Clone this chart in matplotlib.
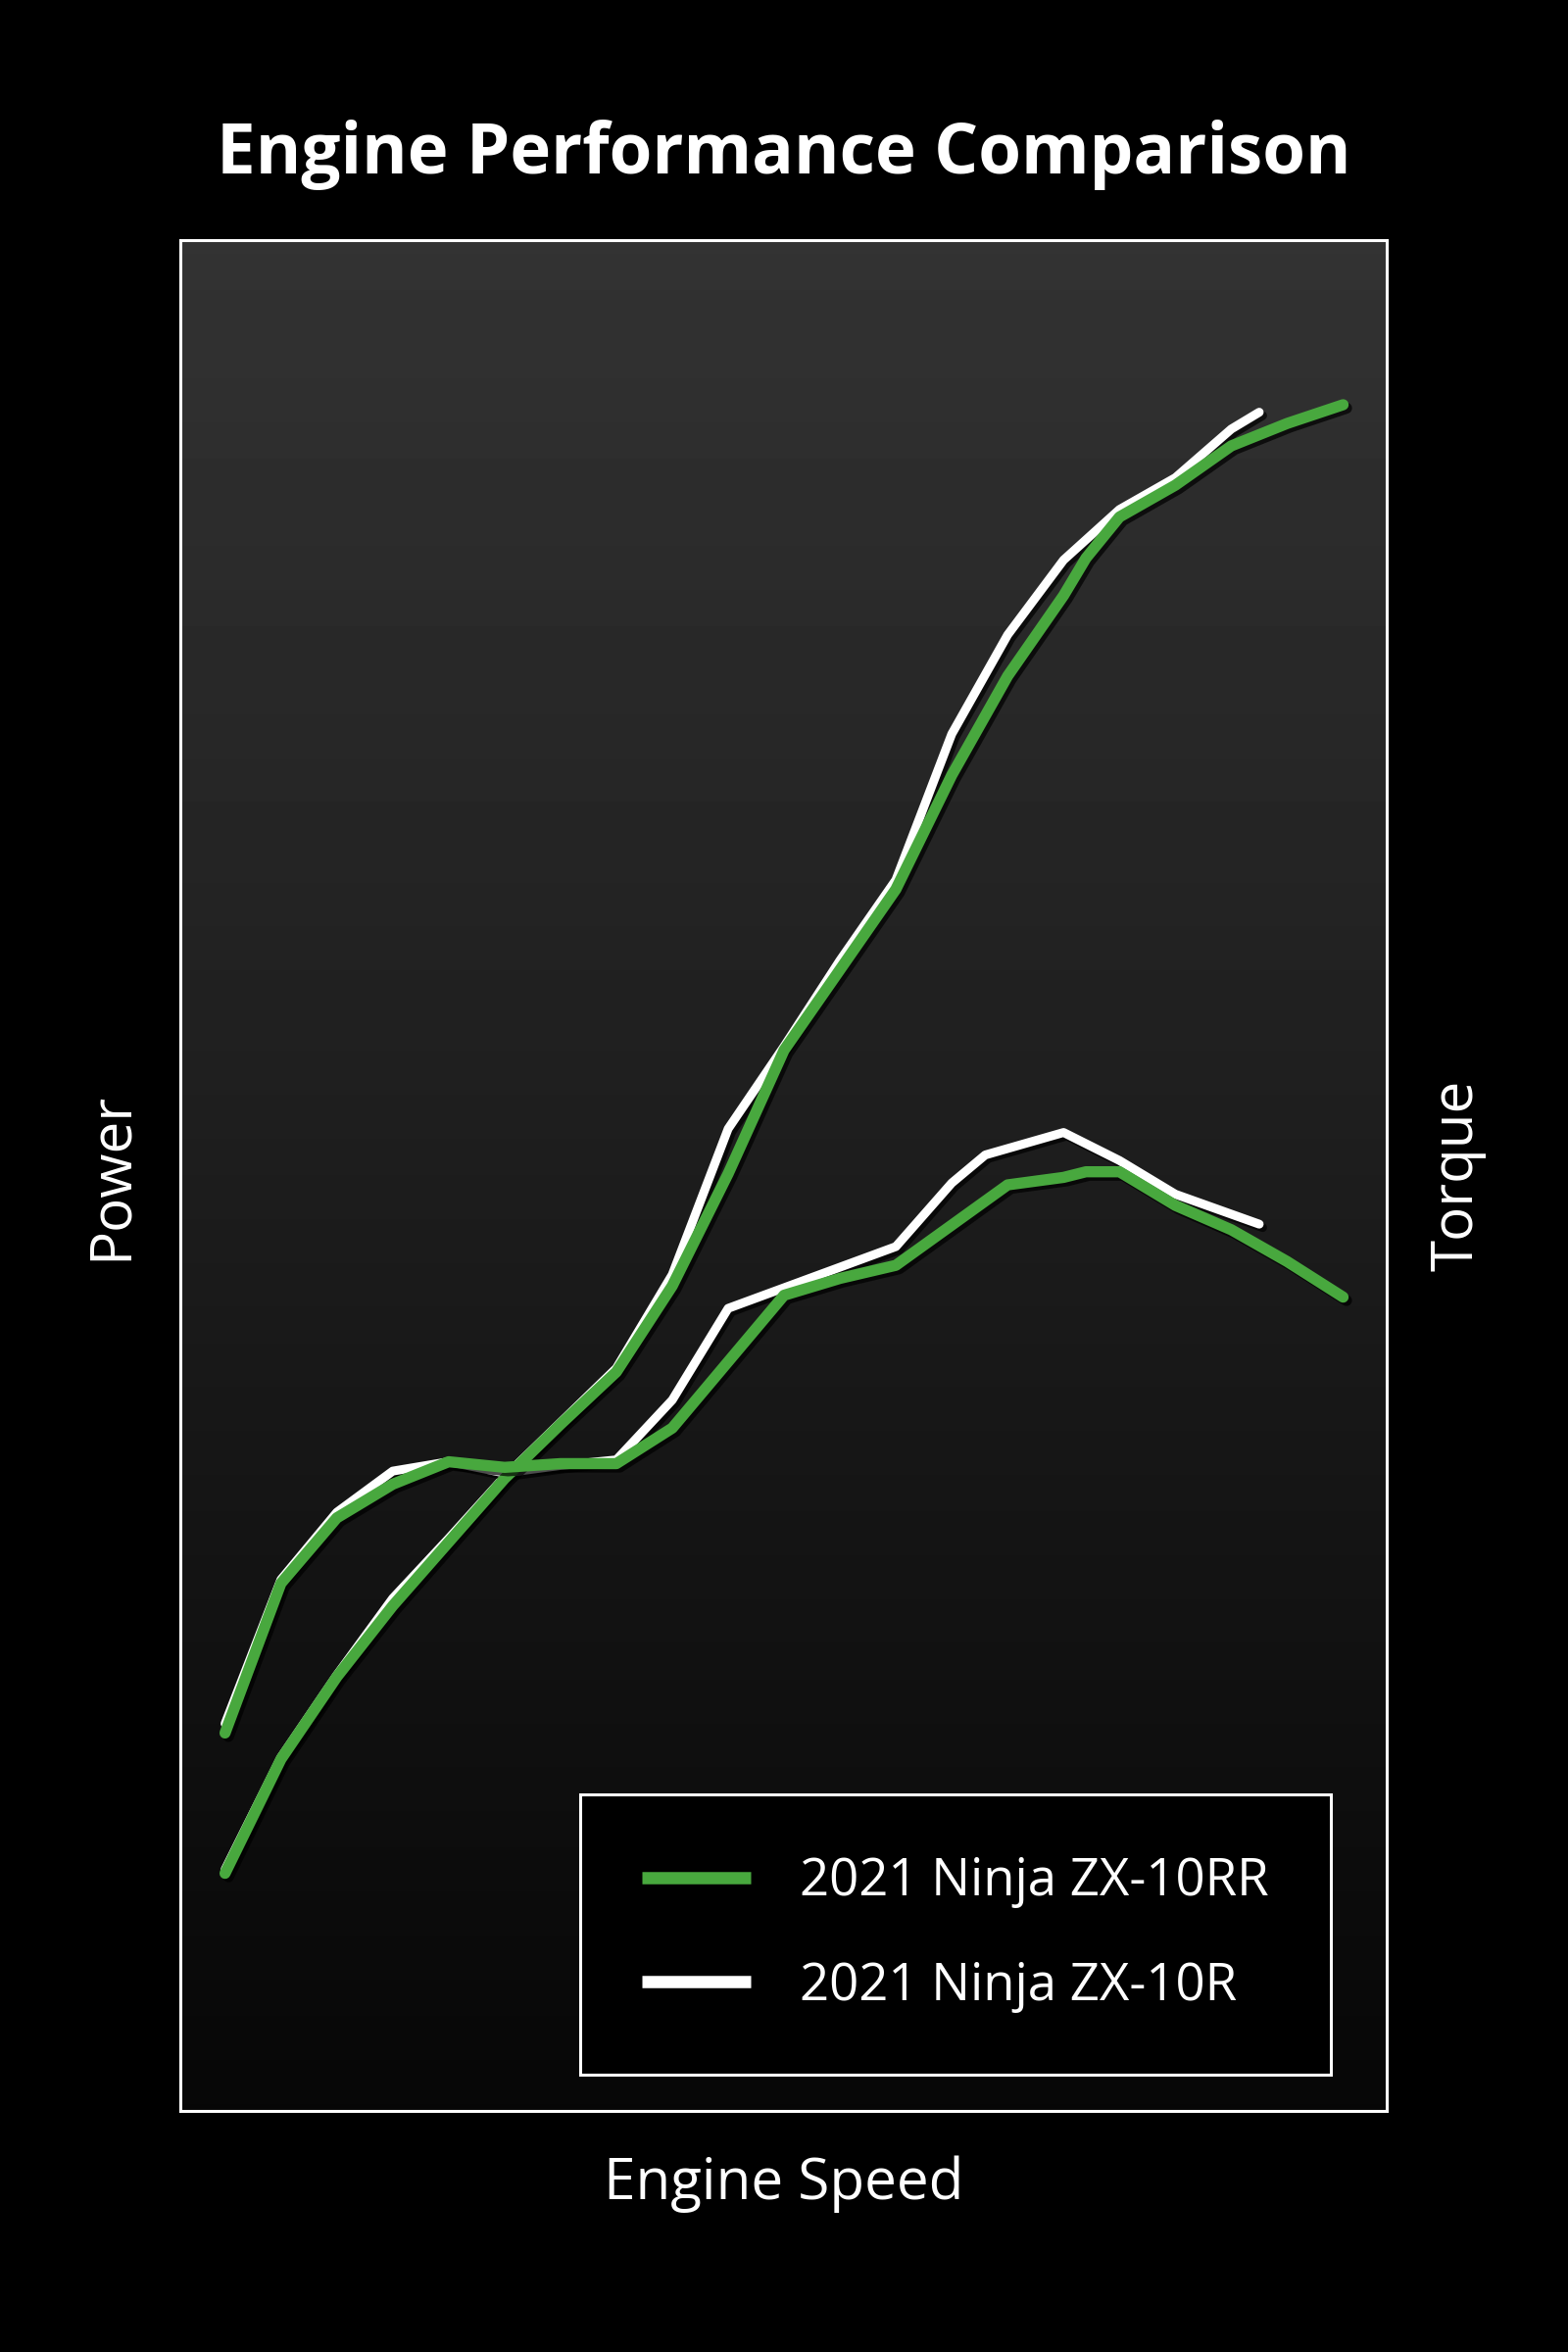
import numpy as np
import matplotlib
matplotlib.use("Agg")
import matplotlib.pyplot as plt
import matplotlib.patheffects as pe


    # engine speed (rpm) and relative output (0-100 = bottom/top of the box)
    # no scale is printed on the original, so values are read as % of plot height

###Power curves###
rpmPowerRR = [4000, 4500, 5000, 5500, 6000, 6500, 7000, 7500, 8000, 8500, 9000,
              9500, 10000, 10500, 11000, 11500, 11700, 12000, 12500, 13000, 13500, 14000]
powerRR = [12.7, 18.8, 23.2, 27.0, 30.4, 33.8, 36.7, 39.5, 44.1, 50.1, 56.7,
           61.0, 65.3, 71.4, 76.7, 81.0, 83.0, 85.2, 86.9, 89.0, 90.2, 91.2]

rpmPowerR = [4000, 4500, 5000, 5500, 6000, 6500, 7000, 7500, 8000, 8500, 9000,
             9500, 10000, 10500, 11000, 11500, 12000, 12500, 13000, 13250]
powerR = [12.9, 18.9, 23.3, 27.4, 30.6, 33.9, 36.8, 39.7, 44.7, 52.5, 56.9,
          61.5, 65.8, 73.6, 78.9, 82.9, 85.6, 87.3, 89.9, 90.8]

###Torque curves###
rpmTorqueRR = [4000, 4500, 5000, 5500, 6000, 6500, 7000, 7500, 8000, 9000, 9500,
               10000, 11000, 11500, 11700, 12000, 12500, 13000, 13500, 14000]
torqueRR = [20.2, 28.2, 31.7, 33.5, 34.7, 34.4, 34.6, 34.6, 36.5, 43.6, 44.5,
            45.2, 49.5, 49.9, 50.2, 50.2, 48.4, 47.1, 45.4, 43.5]

rpmTorqueR = [4000, 4500, 5000, 5500, 6000, 6500, 7000, 7500, 8000, 8500, 9000,
              10000, 10500, 10800, 11500, 12000, 12500, 13250]
torqueR = [20.7, 28.4, 32.0, 34.2, 34.7, 34.1, 34.5, 34.8, 38.0, 42.9, 44.0,
           46.2, 49.6, 51.1, 52.3, 50.8, 49.0, 47.4]

labelRR = "2021 Ninja ZX-10RR"
labelR = "2021 Ninja ZX-10R"

GREEN = "#48a83e"
WHITE = "#ffffff"
FONT = "Open Sans"


    #drop shadow used under every curve
shadow = [pe.SimpleLineShadow(offset=(2.5, -2.5), shadow_color="black", alpha=0.7),
          pe.Normal()]


fig = plt.figure(figsize=(16, 24), dpi=100)
fig.patch.set_facecolor("black")

ax = fig.add_axes([0.115, 0.1025, 0.769375, 0.795417])
ax.set_xlim(3600, 14390)
ax.set_ylim(0, 100)

    #vertical gradient for the plot background
grad = np.linspace(0.2, 0.027, 256).reshape(-1, 1)
ax.imshow(grad, cmap="gray", vmin=0, vmax=1, aspect="auto",
          extent=[3600, 14390, 0, 100], origin="upper", zorder=0)

    #white (ZX-10R) first so the green sits on top
ax.plot(rpmPowerR, powerR, color=WHITE, lw=6.5, solid_capstyle="round",
        solid_joinstyle="round", path_effects=shadow, zorder=2, label=labelR)
ax.plot(rpmTorqueR, torqueR, color=WHITE, lw=6.5, solid_capstyle="round",
        solid_joinstyle="round", path_effects=shadow, zorder=2)

ax.plot(rpmPowerRR, powerRR, color=GREEN, lw=8.2, solid_capstyle="round",
        solid_joinstyle="round", path_effects=shadow, zorder=3, label=labelRR)
ax.plot(rpmTorqueRR, torqueRR, color=GREEN, lw=8.2, solid_capstyle="round",
        solid_joinstyle="round", path_effects=shadow, zorder=3)

for s in ax.spines.values():
    s.set_color("white")
    s.set_linewidth(2.2)
ax.set_xticks([])
ax.set_yticks([])

ax.set_xlabel("Engine Speed", color="white", fontsize=42, family=FONT, labelpad=33)
ax.set_ylabel("Power", color="white", fontsize=42, family=FONT, labelpad=30)

    #torque label on the right hand side
ax2 = ax.twinx()
ax2.set_ylim(0, 100)
ax2.set_yticks([])
ax2.spines[:].set_visible(False)
ax2.set_ylabel("Torque", color="white", fontsize=42, family=FONT, labelpad=31)

fig.text(0.5, 0.934, "Engine Performance Comparison", color="white", fontsize=51,
         fontweight="bold", family=FONT, ha="center", va="center")

    #legend, green first
h, l = ax.get_legend_handles_labels()
order = [1, 0]
leg = ax.legend([h[i] for i in order], [l[i] for i in order],
                loc="lower right", bbox_to_anchor=(0.954, 0.0194),
                borderaxespad=0, frameon=True, fancybox=False,
                facecolor="black", edgecolor="white", framealpha=1,
                handlelength=2.1, handletextpad=0.95,
                labelspacing=1.0, borderpad=1.2,
                prop={"family": FONT, "size": 38})
leg.get_frame().set_linewidth(2.2)
for t in leg.get_texts():
    t.set_color("white")
for line in leg.get_lines():
    line.set_linewidth(9)
    line.set_path_effects([])
    line.set_solid_capstyle("butt")

fig.savefig("out.png", dpi=100, facecolor="black")
